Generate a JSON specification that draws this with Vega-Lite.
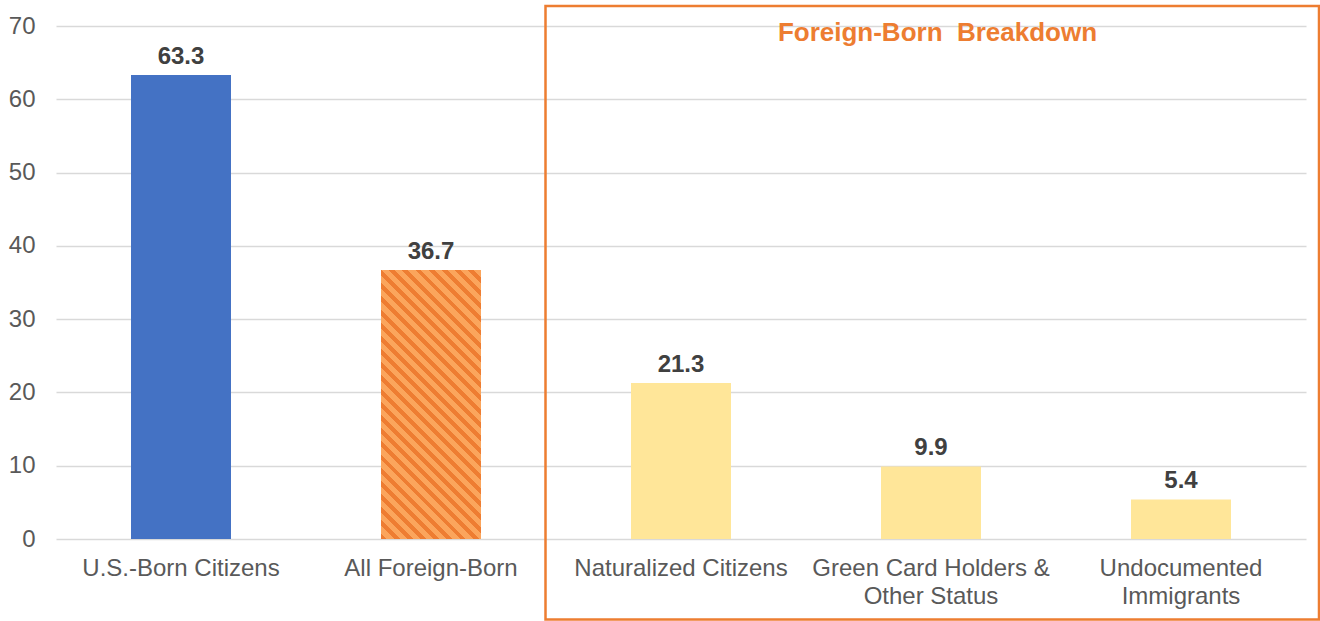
{
  "$schema": "https://vega.github.io/schema/vega-lite/v6.json",
  "width": 1250,
  "height": 513,
  "autosize": {"type": "none"},
  "padding": {"left": 56, "top": 26, "right": 14, "bottom": 82},
  "background": "white",
  "config": {"view": {"stroke": null}, "font": "Liberation Sans"},
  "datasets": {
    "bars": [
      {"category": "U.S.-Born Citizens", "value": 63.3, "group": "U.S.-Born"},
      {"category": "All Foreign-Born", "value": 36.7, "group": "All Foreign-Born"},
      {"category": "Naturalized Citizens", "value": 21.3, "group": "Breakdown"},
      {"category": "Green Card Holders & Other Status", "value": 9.9, "group": "Breakdown"},
      {"category": "Undocumented Immigrants", "value": 5.4, "group": "Breakdown"}
    ],
    "box": [
      {"x1": 1.958, "x2": 5.052, "y1": -11, "y2": 72.73, "title": "Foreign-Born\u00a0 Breakdown", "tx": 3.526, "ty": 67.95}
    ]
  },
  "layer": [
    {
      "data": {"name": "bars"},
      "encoding": {
        "x": {
          "field": "category",
          "type": "nominal",
          "sort": ["U.S.-Born Citizens", "All Foreign-Born", "Naturalized Citizens", "Green Card Holders & Other Status", "Undocumented Immigrants"],
          "scale": {"paddingInner": 0.6, "paddingOuter": 0.3},
          "axis": {
            "title": null,
            "labelAngle": 0,
            "domain": false,
            "ticks": false,
            "labelFontSize": 24,
            "labelColor": "#595959",
            "labelPadding": 17,
            "labelLineHeight": 28,
            "labelBaseline": "top",
            "labelLimit": 400,
            "labelExpr": "datum.value == 'Green Card Holders & Other Status' ? ['Green Card Holders &', 'Other Status'] : datum.value == 'Undocumented Immigrants' ? ['Undocumented', 'Immigrants'] : datum.value"
          }
        },
        "y": {
          "field": "value",
          "type": "quantitative",
          "scale": {"domain": [0, 70], "nice": false},
          "axis": {
            "title": null,
            "values": [0, 10, 20, 30, 40, 50, 60, 70],
            "domain": false,
            "ticks": false,
            "labelFontSize": 24,
            "labelColor": "#595959",
            "labelPadding": 21,
            "gridColor": "#D9D9D9",
            "gridWidth": 1.5
          }
        }
      },
      "layer": [
        {
          "transform": [{"filter": "datum.group != 'All Foreign-Born'"}],
          "mark": {"type": "bar"},
          "encoding": {
            "color": {
              "field": "group",
              "type": "nominal",
              "scale": {"domain": ["U.S.-Born", "Breakdown"], "range": ["#4472C4", "#FFE699"]},
              "legend": null
            }
          }
        },
        {
          "transform": [{"filter": "datum.group == 'All Foreign-Born'"}],
          "mark": {
            "type": "bar",
            "fill": {
              "gradient": "linear",
              "x1": 0, "y1": 1, "x2": 0.448, "y2": -0.205,
              "stops": [
                {"offset": 0, "color": "#EE7D32"}, {"offset": 0.016, "color": "#EE7D32"}, {"offset": 0.016, "color": "#FBA55C"}, {"offset": 0.0357, "color": "#FBA55C"},
                {"offset": 0.0357, "color": "#EE7D32"}, {"offset": 0.0517, "color": "#EE7D32"}, {"offset": 0.0517, "color": "#FBA55C"}, {"offset": 0.0714, "color": "#FBA55C"},
                {"offset": 0.0714, "color": "#EE7D32"}, {"offset": 0.0874, "color": "#EE7D32"}, {"offset": 0.0874, "color": "#FBA55C"}, {"offset": 0.1071, "color": "#FBA55C"},
                {"offset": 0.1071, "color": "#EE7D32"}, {"offset": 0.1231, "color": "#EE7D32"}, {"offset": 0.1231, "color": "#FBA55C"}, {"offset": 0.1429, "color": "#FBA55C"},
                {"offset": 0.1429, "color": "#EE7D32"}, {"offset": 0.1589, "color": "#EE7D32"}, {"offset": 0.1589, "color": "#FBA55C"}, {"offset": 0.1786, "color": "#FBA55C"},
                {"offset": 0.1786, "color": "#EE7D32"}, {"offset": 0.1946, "color": "#EE7D32"}, {"offset": 0.1946, "color": "#FBA55C"}, {"offset": 0.2143, "color": "#FBA55C"},
                {"offset": 0.2143, "color": "#EE7D32"}, {"offset": 0.2303, "color": "#EE7D32"}, {"offset": 0.2303, "color": "#FBA55C"}, {"offset": 0.25, "color": "#FBA55C"},
                {"offset": 0.25, "color": "#EE7D32"}, {"offset": 0.266, "color": "#EE7D32"}, {"offset": 0.266, "color": "#FBA55C"}, {"offset": 0.2857, "color": "#FBA55C"},
                {"offset": 0.2857, "color": "#EE7D32"}, {"offset": 0.3017, "color": "#EE7D32"}, {"offset": 0.3017, "color": "#FBA55C"}, {"offset": 0.3214, "color": "#FBA55C"},
                {"offset": 0.3214, "color": "#EE7D32"}, {"offset": 0.3374, "color": "#EE7D32"}, {"offset": 0.3374, "color": "#FBA55C"}, {"offset": 0.3571, "color": "#FBA55C"},
                {"offset": 0.3571, "color": "#EE7D32"}, {"offset": 0.3731, "color": "#EE7D32"}, {"offset": 0.3731, "color": "#FBA55C"}, {"offset": 0.3929, "color": "#FBA55C"},
                {"offset": 0.3929, "color": "#EE7D32"}, {"offset": 0.4089, "color": "#EE7D32"}, {"offset": 0.4089, "color": "#FBA55C"}, {"offset": 0.4286, "color": "#FBA55C"},
                {"offset": 0.4286, "color": "#EE7D32"}, {"offset": 0.4446, "color": "#EE7D32"}, {"offset": 0.4446, "color": "#FBA55C"}, {"offset": 0.4643, "color": "#FBA55C"},
                {"offset": 0.4643, "color": "#EE7D32"}, {"offset": 0.4803, "color": "#EE7D32"}, {"offset": 0.4803, "color": "#FBA55C"}, {"offset": 0.5, "color": "#FBA55C"},
                {"offset": 0.5, "color": "#EE7D32"}, {"offset": 0.516, "color": "#EE7D32"}, {"offset": 0.516, "color": "#FBA55C"}, {"offset": 0.5357, "color": "#FBA55C"},
                {"offset": 0.5357, "color": "#EE7D32"}, {"offset": 0.5517, "color": "#EE7D32"}, {"offset": 0.5517, "color": "#FBA55C"}, {"offset": 0.5714, "color": "#FBA55C"},
                {"offset": 0.5714, "color": "#EE7D32"}, {"offset": 0.5874, "color": "#EE7D32"}, {"offset": 0.5874, "color": "#FBA55C"}, {"offset": 0.6071, "color": "#FBA55C"},
                {"offset": 0.6071, "color": "#EE7D32"}, {"offset": 0.6231, "color": "#EE7D32"}, {"offset": 0.6231, "color": "#FBA55C"}, {"offset": 0.6429, "color": "#FBA55C"},
                {"offset": 0.6429, "color": "#EE7D32"}, {"offset": 0.6589, "color": "#EE7D32"}, {"offset": 0.6589, "color": "#FBA55C"}, {"offset": 0.6786, "color": "#FBA55C"},
                {"offset": 0.6786, "color": "#EE7D32"}, {"offset": 0.6946, "color": "#EE7D32"}, {"offset": 0.6946, "color": "#FBA55C"}, {"offset": 0.7143, "color": "#FBA55C"},
                {"offset": 0.7143, "color": "#EE7D32"}, {"offset": 0.7303, "color": "#EE7D32"}, {"offset": 0.7303, "color": "#FBA55C"}, {"offset": 0.75, "color": "#FBA55C"},
                {"offset": 0.75, "color": "#EE7D32"}, {"offset": 0.766, "color": "#EE7D32"}, {"offset": 0.766, "color": "#FBA55C"}, {"offset": 0.7857, "color": "#FBA55C"},
                {"offset": 0.7857, "color": "#EE7D32"}, {"offset": 0.8017, "color": "#EE7D32"}, {"offset": 0.8017, "color": "#FBA55C"}, {"offset": 0.8214, "color": "#FBA55C"},
                {"offset": 0.8214, "color": "#EE7D32"}, {"offset": 0.8374, "color": "#EE7D32"}, {"offset": 0.8374, "color": "#FBA55C"}, {"offset": 0.8571, "color": "#FBA55C"},
                {"offset": 0.8571, "color": "#EE7D32"}, {"offset": 0.8731, "color": "#EE7D32"}, {"offset": 0.8731, "color": "#FBA55C"}, {"offset": 0.8929, "color": "#FBA55C"},
                {"offset": 0.8929, "color": "#EE7D32"}, {"offset": 0.9089, "color": "#EE7D32"}, {"offset": 0.9089, "color": "#FBA55C"}, {"offset": 0.9286, "color": "#FBA55C"},
                {"offset": 0.9286, "color": "#EE7D32"}, {"offset": 0.9446, "color": "#EE7D32"}, {"offset": 0.9446, "color": "#FBA55C"}, {"offset": 0.9643, "color": "#FBA55C"},
                {"offset": 0.9643, "color": "#EE7D32"}, {"offset": 0.9803, "color": "#EE7D32"}, {"offset": 0.9803, "color": "#FBA55C"}, {"offset": 1, "color": "#FBA55C"}
              ]
            }
          }
        },
        {
          "mark": {"type": "text", "baseline": "alphabetic", "dy": -11, "fontSize": 24, "fontWeight": "bold", "color": "#404040"},
          "encoding": {"text": {"field": "value", "type": "quantitative", "format": ".1f"}}
        }
      ]
    },
    {
      "data": {"name": "box"},
      "encoding": {
        "x": {"field": "x1", "type": "quantitative", "scale": {"domain": [0, 5], "nice": false, "zero": false}, "axis": null},
        "y": {"field": "y1", "type": "quantitative", "scale": {"domain": [0, 70], "nice": false}, "axis": null}
      },
      "layer": [
        {
          "mark": {"type": "rect", "fill": null, "stroke": "#ED7D31", "strokeWidth": 2.5},
          "encoding": {"x2": {"field": "x2"}, "y2": {"field": "y2"}}
        },
        {
          "mark": {"type": "text", "baseline": "alphabetic", "align": "center", "fontSize": 26, "fontWeight": "bold", "color": "#ED7D31"},
          "encoding": {
            "x": {"field": "tx", "type": "quantitative", "scale": {"domain": [0, 5], "nice": false, "zero": false}, "axis": null},
            "y": {"field": "ty", "type": "quantitative", "scale": {"domain": [0, 70], "nice": false}, "axis": null},
            "text": {"field": "title"}
          }
        }
      ]
    }
  ],
  "resolve": {"scale": {"x": "independent", "y": "independent"}}
}
